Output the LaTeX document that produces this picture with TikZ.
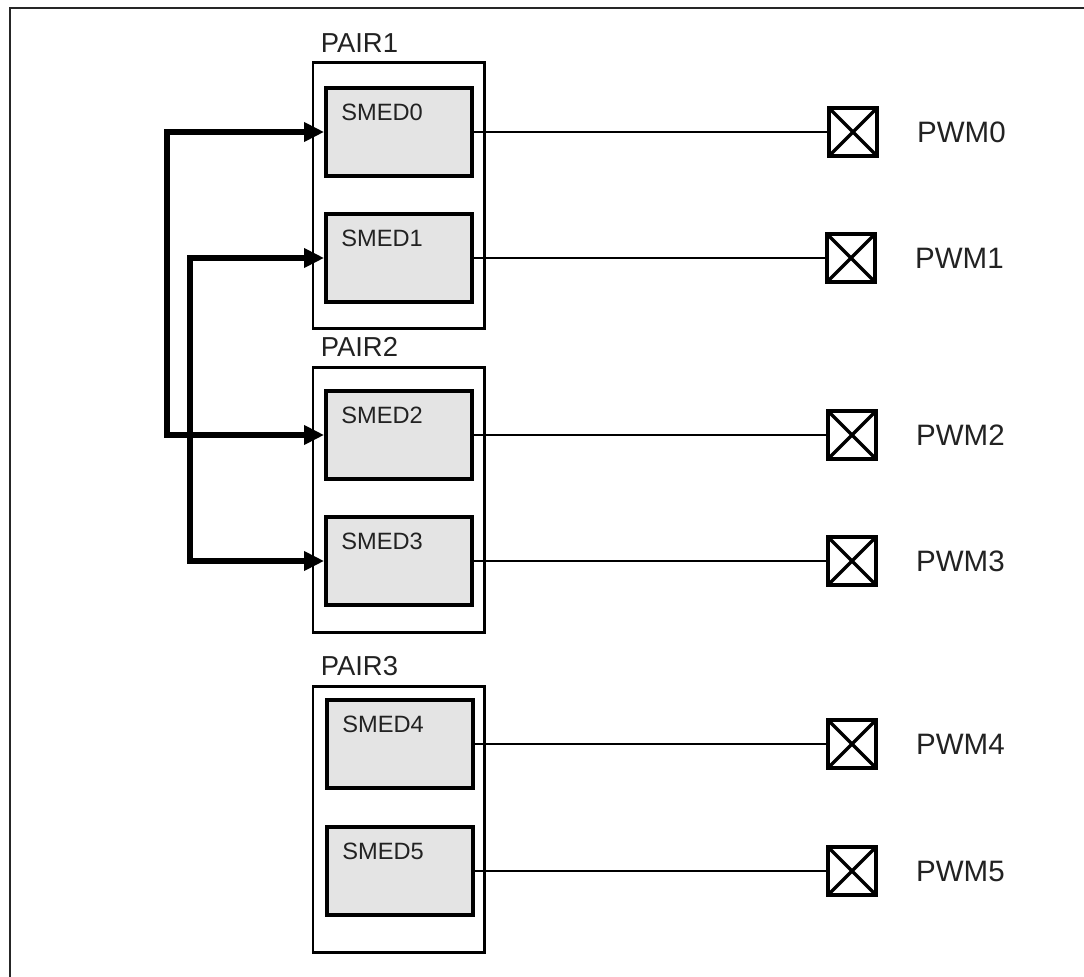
\documentclass[tikz,border=0pt]{standalone}
\usepackage{fontspec}
\setmainfont{Liberation Sans}
\usepackage{xcolor}
\usepackage{tikz}
\usetikzlibrary{calc, arrows.meta, positioning}
\definecolor{smedgray}{HTML}{E4E4E4}
\definecolor{textgray}{HTML}{222222}
\tikzset{
  pairbox/.style={
    rectangle, draw=black, line width=2.1pt, fill=white,
    minimum width=4.275cm, minimum height=6.625cm, inner sep=0pt
  },
  pairlabel/.style={
    anchor=base west, inner sep=0pt,
    font=\fontsize{19.5}{22}\selectfont\color{textgray}
  },
  smedbox/.style={
    rectangle, draw=black, line width=2.6pt, fill=smedgray,
    minimum width=3.65cm, minimum height=2.2cm, inner sep=0pt
  },
  smedlabel/.style={
    anchor=base west, inner sep=0pt,
    font=\fontsize{16.8}{20}\selectfont\color{textgray}
  },
  pwmpad/.style={
    rectangle, draw=black, line width=2.6pt, fill=white,
    minimum size=1.2cm, inner sep=0pt,
    path picture={
      \draw[line width=2.4pt]
        (path picture bounding box.north west) -- (path picture bounding box.south east)
        (path picture bounding box.south west) -- (path picture bounding box.north east);
    }
  },
  pwmlabel/.style={
    anchor=west, inner sep=0pt,
    font=\fontsize{21}{24}\selectfont\color{textgray}
  },
  wire/.style={line width=1.8pt, color=black},
  bus/.style={-{Triangle[length=0.5cm, width=0.46cm]}, line width=3.8pt, color=black},
  frameline/.style={line width=1.8pt, color=black!85},
}

\begin{document}
\begin{tikzpicture}[x=0.025cm, y=-0.025cm]

  \useasboundingbox (0,0) rectangle (1084,977);

  % --- Rahmen ---
  \draw[frameline] (10,977) -- (10,8) -- (1084,8);

  % --- Paare ---
  \node[pairbox] (pair1) at (398.5,195.5) {};
  \node[pairbox] (pair2) at (398.5,500)   {};
  \node[pairbox] (pair3) at (398.5,819.5) {};
  \node[pairlabel] (pair1lab) at ($(pair1.north west)+(9,-9)$) {PAIR1};
  \node[pairlabel] (pair2lab) at ($(pair2.north west)+(9,-9)$) {PAIR2};
  \node[pairlabel] (pair3lab) at ($(pair3.north west)+(9,-10)$) {PAIR3};

  % --- SMED-Bloecke ---
  \node[smedbox] (smed0) at (399,132) {};
  \node[smedbox] (smed1) at (399,258) {};
  \node[smedbox] (smed2) at (399,435) {};
  \node[smedbox] (smed3) at (399,561) {};
  \node[smedbox] (smed4) at (400,744) {};
  \node[smedbox] (smed5) at (400,871) {};
  \foreach \i in {0,...,5} {
    \node[smedlabel] (smed\i lab) at ($(smed\i.north west)+(17,34)$) {SMED\i};
  }

  % --- PWM-Ausgaenge ---
  \node[pwmpad] (pwm0) at (853,132) {};
  \node[pwmpad] (pwm1) at (851,258) {};
  \node[pwmpad] (pwm2) at (852,435) {};
  \node[pwmpad] (pwm3) at (852,561) {};
  \node[pwmpad] (pwm4) at (852,744) {};
  \node[pwmpad] (pwm5) at (852,871) {};
  \foreach \i in {0,...,5} {
    \node[pwmlabel, right=0.95cm of pwm\i.east, anchor=west] (pwm\i lab) {PWM\i};
    \draw[wire] (smed\i.east) -- (pwm\i.west);
  }

  % --- Verkettung der Paare ---
  \coordinate (busa) at (167,283);
  \coordinate (busb) at (190,410);
  \draw[bus] (busa) |- (smed0.west);
  \draw[bus] (busa) |- (smed2.west);
  \draw[bus] (busb) |- (smed1.west);
  \draw[bus] (busb) |- (smed3.west);

\end{tikzpicture}
\end{document}
